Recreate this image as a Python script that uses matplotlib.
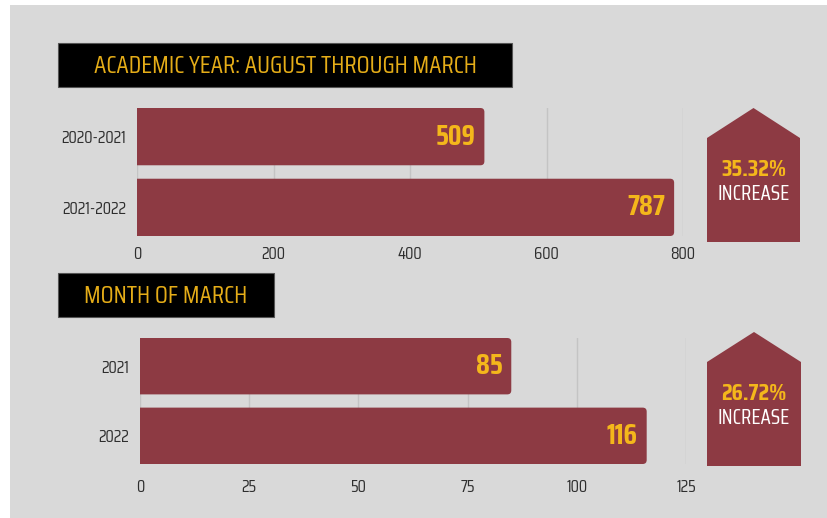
import matplotlib
matplotlib.use("Agg")
import matplotlib.pyplot as plt
from matplotlib.patches import Rectangle, Polygon, FancyBboxPatch

plt.rcParams['font.family'] = ['Saira Condensed', 'DejaVu Sans']

# data
year_labels = ['2020-2021', '2021-2022']
year_values = [509, 787]
year_ticks = [0, 200, 400, 600, 800]
year_title = 'ACADEMIC YEAR: AUGUST THROUGH MARCH'

march_labels = ['2021', '2022']
march_values = [85, 116]
march_ticks = [0, 25, 50, 75, 100, 125]
march_title = 'MONTH OF MARCH'

BG = '#d9d9d9'
BAR = '#8d3a43'
GOLD = '#f4b71b'
TITLE_GOLD = '#e5ad18'
GRID = '#c4c4c4'
W, H = 827, 518

fig = plt.figure(figsize=(W / 100, H / 100), dpi=100)
fig.patch.set_facecolor('white')

# pixel overlay for background, title boxes and the "house" badges
deco = fig.add_axes([0, 0, 1, 1], zorder=0)
deco.set_xlim(0, W)
deco.set_ylim(H, 0)
deco.axis('off')
deco.add_patch(Rectangle((10, 5), W - 10, H - 5, color=BG, lw=0))


def title_box(x0, y0, x1, y1, text):
    deco.add_patch(Rectangle((x0, y0), x1 - x0, y1 - y0, facecolor='black',
                             edgecolor='#555555', lw=0.8))
    deco.text((x0 + x1) / 2, (y0 + y1) / 2 + 1, text, color=TITLE_GOLD,
              fontsize=18, ha='center', va='center')


def house(x0, x1, peak, shoulder, bottom, pct):
    mid = (x0 + x1) / 2
    deco.add_patch(Polygon([(x0, bottom), (x0, shoulder), (mid, peak),
                            (x1, shoulder), (x1, bottom)], closed=True,
                           facecolor=BAR, lw=0))
    cy = (shoulder + bottom) / 2
    deco.text(mid, cy - 20, f'{pct:.2f}%', color=GOLD, fontsize=17,
              fontweight='bold', ha='center', va='center')
    deco.text(mid, cy + 4, 'INCREASE', color='white', fontsize=15,
              ha='center', va='center')


def bar_panel(rect, labels, values, ticks, pad):
    ax = fig.add_axes(rect, zorder=2)
    ax.set_facecolor('none')
    ypos = list(range(len(labels)))
    h = 0.81
    bars = ax.barh(ypos, values, height=h, color=BAR, zorder=2)
    ax.set_xlim(ticks[0], ticks[-1])
    ax.set_ylim(len(labels) - 1 + h / 2, -h / 2)

    # swap plain bars for ones with rounded ends (left end clipped at 0)
    px_w = rect[2] * W
    px_h = rect[3] * H
    xu = (ticks[-1] - ticks[0]) / px_w
    yu = (len(labels) - 1 + h) / px_h
    r = 4 * xu
    for b in bars:
        b.set_visible(False)
        ax.add_patch(FancyBboxPatch((b.get_x() - 2 * r, b.get_y()),
                                    b.get_width() + 2 * r, b.get_height(),
                                    boxstyle=f'round,pad=0,rounding_size={r}',
                                    mutation_aspect=yu / xu,
                                    facecolor=BAR, edgecolor='none', zorder=2))

    ax.set_xticks(ticks)
    ax.set_yticks(ypos)
    ax.set_yticklabels(labels)
    ax.tick_params(length=0, labelsize=12.5, labelcolor='#2e2e2e')
    ax.tick_params(axis='x', pad=pad)
    ax.tick_params(axis='y', pad=8)
    ax.grid(axis='x', color=GRID, lw=1, zorder=0)
    for s in ax.spines.values():
        s.set_visible(False)
    for y, v in zip(ypos, values):
        ax.annotate(str(v), (v, y), xytext=(-6.5, 0), textcoords='offset points',
                    ha='right', va='center', color=GOLD, fontsize=20.5,
                    fontweight='bold', zorder=3)
    return ax


title_box(58, 43, 512, 87, year_title)
bar_panel([137 / W, 1 - 236 / H, 546 / W, 128 / H],
          year_labels, year_values, year_ticks, pad=7)
house(707, 800, 108, 138, 242,
      (year_values[1] - year_values[0]) / year_values[1] * 100)

title_box(58, 273, 274, 317, march_title)
bar_panel([140 / W, 1 - 464 / H, 546 / W, 126 / H],
          march_labels, march_values, march_ticks, pad=11)
house(707, 801, 332, 362, 466,
      (march_values[1] - march_values[0]) / march_values[1] * 100)

fig.savefig('out.png', dpi=100, facecolor=fig.get_facecolor())
